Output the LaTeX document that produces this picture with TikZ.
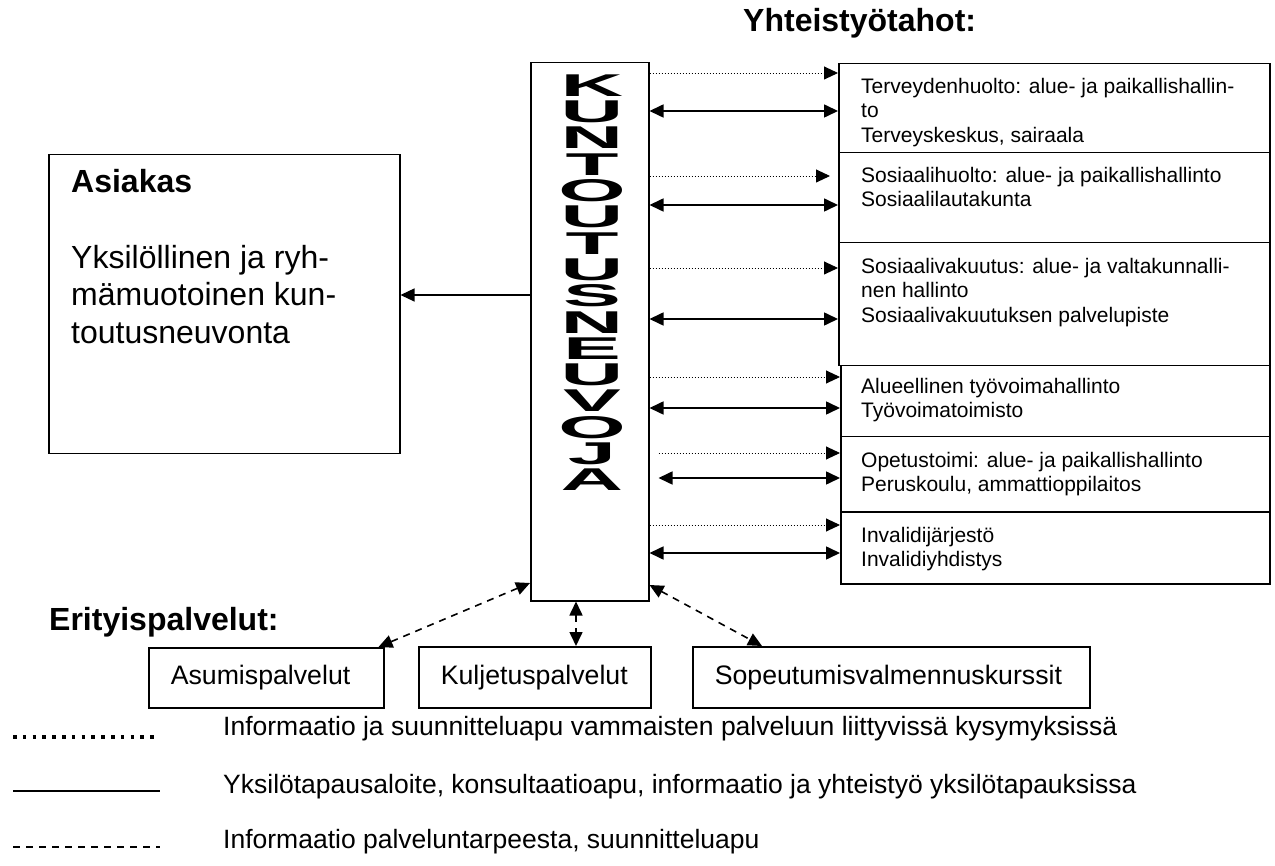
\documentclass[tikz,border=0pt]{standalone}
\usepackage{fontspec}
\setmainfont{Liberation Sans}
\usetikzlibrary{arrows.meta,calc}
\newcommand\kletter[1]{\scalebox{2.75}[1]{#1}}
\begin{document}
\begin{tikzpicture}[x=1pt,y=-1pt,
  box/.style={draw, line width=1.5pt, inner sep=0pt, anchor=north west},
  rtxt/.style={anchor=north west, inner sep=0pt, align=left, font=\fontsize{21}{24.5}\selectfont},
  btxt/.style={box, align=left, inner xsep=22pt, font=\fontsize{26.7}{32}\selectfont},
  head/.style={anchor=base west, inner sep=0pt, font=\fontsize{32}{38}\selectfont\bfseries},
  legtxt/.style={anchor=base west, inner sep=0pt, font=\fontsize{26.5}{32}\selectfont},
  vword/.style={anchor=north, inner sep=0pt, align=center, font=\fontsize{31.5}{26.3}\selectfont\bfseries},
  >={Triangle[length=14pt,width=13pt]},
  dotarrow/.style={->, line width=0.9pt, dash pattern=on 1pt off 2pt},
  solarrow/.style={<->, line width=1.6pt},
  dasharrow/.style={<->, line width=1.6pt, dash pattern=on 7pt off 6pt},
]
\useasboundingbox (0,0) rectangle (1275,866);

% headers
\node[head] (hyht) at (743,32) {Yhteistyötahot:};
\node[head] (herit) at (49,630) {Erityispalvelut:};

% Asiakas
\node[box, minimum width=351pt, minimum height=299pt] (asiakas) at (48,154) {};
\node[head] (asiakasT) at (71,193) {Asiakas};
\node[anchor=north west, inner sep=0pt, align=left, font=\fontsize{32}{37.5}\selectfont] (asiakasB) at (71,245) {Yksilöllinen ja ryh-\\mämuotoinen kun-\\toutusneuvonta};

% central box
\node[box, minimum width=118pt, minimum height=538pt] (kbox) at (530,62) {};
\node[vword] (kword) at (592,74.5) {\kletter{K}\\\kletter{U}\\\kletter{N}\\\kletter{T}\\\kletter{O}\\\kletter{U}\\\kletter{T}\\\kletter{U}\\\kletter{S}\\\kletter{N}\\\kletter{E}\\\kletter{U}\\\kletter{V}\\\kletter{O}\\\kletter{J}\\\kletter{A}};

% right boxes
\node[box, minimum width=431pt, minimum height=89pt] (t1) at (838,63) {};
\node[box, minimum width=431pt, minimum height=90pt] (t2) at (838,152) {};
\node[box, minimum width=431pt, minimum height=123pt] (t3) at (838,242) {};
\node[box, minimum width=429pt, minimum height=71pt] (t4) at (840,365) {};
\node[box, minimum width=429pt, minimum height=75pt] (t5) at (840,436) {};
\node[box, minimum width=429pt, minimum height=72pt] (t6) at (840,511) {};

\begin{scope}
\clip (t1.north west) rectangle (t1.south east);
\node[rtxt] (t1T) at (861,78) {Terveydenhuolto: alue- ja paikallishallin-\\to\\Terveyskeskus, sairaala};
\end{scope}
\node[rtxt] (t2T) at (861,167) {Sosiaalihuolto: alue- ja paikallishallinto\\Sosiaalilautakunta};
\node[rtxt] (t3T) at (861,258) {Sosiaalivakuutus: alue- ja valtakunnalli-\\nen hallinto\\Sosiaalivakuutuksen palvelupiste};
\node[rtxt] (t4T) at (861,378) {Alueellinen työvoimahallinto\\Työvoimatoimisto};
\node[rtxt] (t5T) at (861,452) {Opetustoimi: alue- ja paikallishallinto\\Peruskoulu, ammattioppilaitos};
\node[rtxt] (t6T) at (861,527) {Invalidijärjestö\\Invalidiyhdistys};

% right connectors
\draw[dotarrow] (kbox.east |- 0,73) -- (t1.west |- 0,73);
\draw[solarrow] (kbox.east |- 0,111) -- (t1.west |- 0,111);
\draw[dotarrow] (kbox.east |- 0,176) -- ($(t2.west |- 0,176)+(-8,0)$);
\draw[solarrow] (kbox.east |- 0,205) -- (t2.west |- 0,205);
\draw[dotarrow] (kbox.east |- 0,268) -- (t3.west |- 0,268);
\draw[solarrow] (kbox.east |- 0,319) -- (t3.west |- 0,319);
\draw[dotarrow] (kbox.east |- 0,377) -- (t4.west |- 0,377);
\draw[solarrow] (kbox.east |- 0,408) -- (t4.west |- 0,408);
\draw[dotarrow] ($(kbox.east |- 0,453)+(9,0)$) -- (t5.west |- 0,453);
\draw[solarrow] ($(kbox.east |- 0,478)+(9,0)$) -- (t5.west |- 0,478);
\draw[dotarrow] (kbox.east |- 0,525) -- (t6.west |- 0,525);
\draw[solarrow] (kbox.east |- 0,553) -- (t6.west |- 0,553);

% to Asiakas
\draw[->, line width=1.2pt] (kbox.west |- 0,295) -- (asiakas.east |- 0,295);

% bottom boxes
\node[btxt, minimum width=235pt, minimum height=60pt, text width=191pt] (asum) at (148,647) {Asumispalvelut};
\node[btxt, minimum width=232pt, minimum height=61pt, text width=188pt] (kulj) at (418,646) {Kuljetuspalvelut};
\node[btxt, minimum width=397pt, minimum height=61pt, text width=353pt] (sop) at (692,646) {Sopeutumisvalmennuskurssit};

\draw[dasharrow] (kbox.west |- 0,583) -- ($(asum.north east)+(-6,0)$);
\draw[dasharrow] (kbox.south -| 576,0) -- (kulj.north -| 576,0);
\draw[dasharrow] (kbox.east |- 0,585) -- (sop.north west -| 762,0);

% legend
\draw[line width=3.5pt, dash pattern=on 3.5pt off 6.3pt] (13,737) -- (158,737);
\draw[line width=1.5pt] (13,791) -- (160,791);
\draw[line width=1.5pt, dash pattern=on 7pt off 6pt] (13,847) -- (160,847);
\node[legtxt] (leg1) at (223,735) {Informaatio ja suunnitteluapu vammaisten palveluun liittyvissä kysymyksissä};
\node[legtxt] (leg2) at (223,793) {Yksilötapausaloite, konsultaatioapu, informaatio ja yhteistyö yksilötapauksissa};
\node[legtxt] (leg3) at (223,848) {Informaatio palveluntarpeesta, suunnitteluapu};
\end{tikzpicture}
\end{document}
